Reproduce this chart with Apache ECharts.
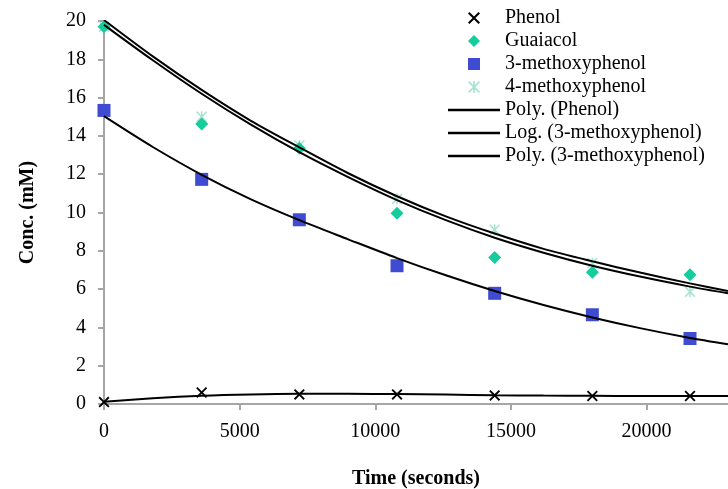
<!DOCTYPE html>
<html>
<head>
<meta charset="utf-8">
<title>Conc. vs time</title>
<script src="https://cdn.jsdelivr.net/npm/echarts@6/dist/echarts.min.js"></script>
<style>
  html, body { margin: 0; padding: 0; background: #fff; }
  #chart { width: 728px; height: 489px; }
</style>
</head>
<body>
<div id="chart"></div>
<script>
// measured concentrations (mM) at each sampling time (s)
const sampleTimes = [0, 3600, 7200, 10800, 14400, 18000, 21600];
const phenol = [0.1, 0.6, 0.5, 0.5, 0.45, 0.42, 0.42];
const guaiacol = [19.7, 14.62, 13.35, 9.96, 7.65, 6.88, 6.75];
const methoxy3 = [15.33, 11.73, 9.62, 7.22, 5.78, 4.66, 3.42];
const methoxy4 = [19.7, 15.0, 13.5, 10.7, 9.1, 7.35, 5.86];

// trend lines
const trendTimes = [0, 1800, 3600, 5400, 7200, 9000, 10800, 12600, 14400, 16200, 18000, 19800, 21600, 23000];
const trendPolyPhenol = [0.12, 0.3, 0.43, 0.5, 0.53, 0.53, 0.52, 0.49, 0.46, 0.44, 0.43, 0.42, 0.42, 0.42];
const trendLog3 = [20.05, 18.15, 16.4, 14.8, 13.4, 12.05, 10.85, 9.8, 8.9, 8.1, 7.45, 6.85, 6.3, 5.9];
const trendUpper2 = [19.8, 17.95, 16.2, 14.6, 13.15, 11.85, 10.65, 9.6, 8.68, 7.9, 7.22, 6.64, 6.13, 5.78];
const trendPoly3 = [15.03, 13.42, 11.97, 10.7, 9.6, 8.6, 7.62, 6.72, 5.9, 5.17, 4.52, 3.95, 3.45, 3.12];

const xTicks = { min: 0, max: 23000, interval: 5000 };
const yTicks = { min: 0, max: 20, interval: 2 };

const pairs = (xs, ys) => xs.map((x, i) => [x, ys[i]]);

// path symbols so legend icons keep their aspect
const xMark = 'path://M0,1.2 L1.2,0 L5,3.8 L8.8,0 L10,1.2 L6.2,5 L10,8.8 L8.8,10 L5,6.2 L1.2,10 L0,8.8 L3.8,5 Z';
const starMark = 'path://M0,1 L1,0 L5,4 L9,0 L10,1 L6,5 L10,9 L9,10 L5,6 L1,10 L0,9 L4,5 Z M4.3,0 L5.7,0 L5.7,10 L4.3,10 Z';
const diamondMark = 'path://M5,0 L10,5 L5,10 L0,5 Z';
const squareMark = 'path://M0,0 L10,0 L10,10 L0,10 Z';
const lineIcon = 'path://M0,0 L52,0 L52,2.5 L0,2.5 Z';

const font = 'Liberation Serif, Times New Roman, serif';
const axisGray = '#a6a6a6';

const scatter = (name, data, symbol, size, color, z) => ({
  name,
  type: 'scatter',
  data: pairs(sampleTimes, data),
  symbol,
  symbolSize: size,
  itemStyle: { color, opacity: 1 },
  clip: false,
  z
});

const trend = (name, data) => ({
  name,
  type: 'line',
  data: pairs(trendTimes, data),
  smooth: 0.3,
  symbol: 'none',
  lineStyle: { color: '#000', width: 2 },
  itemStyle: { color: '#000' },
  z: 4
});

const options = {
  animation: false,
  backgroundColor: '#fff',
  grid: { left: 104, top: 21, right: 0, bottom: 85, outerBoundsMode: 'none', containLabel: false },
  legend: {
    orient: 'vertical',
    left: 448,
    top: 8,
    padding: 0,
    itemGap: 3,
    itemWidth: 52,
    itemHeight: 12,
    textStyle: { fontFamily: font, fontSize: 20, color: '#000' },
    data: ['Phenol', 'Guaiacol', '3-methoxyphenol', '4-methoxyphenol',
      { name: 'Poly. (Phenol)', icon: lineIcon },
      { name: 'Log. (3-methoxyphenol)', icon: lineIcon },
      { name: 'Poly. (3-methoxyphenol)', icon: lineIcon }]
  },
  xAxis: {
    type: 'value',
    ...xTicks,
    name: 'Time (seconds)',
    nameLocation: 'middle',
    nameGap: 65,
    nameTextStyle: { fontFamily: font, fontSize: 20, fontWeight: 'bold', color: '#000' },
    axisLine: { show: true, lineStyle: { color: axisGray, width: 2 } },
    axisTick: { show: true, length: 6, lineStyle: { color: axisGray, width: 2 } },
    splitLine: { show: false },
    axisLabel: {
      fontFamily: font, fontSize: 20, color: '#000', margin: 18, showMaxLabel: false,
      formatter: v => String(v)
    }
  },
  yAxis: {
    type: 'value',
    ...yTicks,
    name: 'Conc. (mM)',
    nameLocation: 'middle',
    nameGap: 66,
    nameTextStyle: { fontFamily: font, fontSize: 20, fontWeight: 'bold', color: '#000' },
    axisLine: { show: true, lineStyle: { color: axisGray, width: 2 } },
    axisTick: { show: true, length: 6, lineStyle: { color: axisGray, width: 2 } },
    splitLine: { show: false },
    axisLabel: { fontFamily: font, fontSize: 20, color: '#000', margin: 18 }
  },
  series: [
    scatter('4-methoxyphenol', methoxy4, starMark, 11, '#a9e3d0', 2),
    scatter('Guaiacol', guaiacol, diamondMark, 13, '#14cc9c', 3),
    scatter('3-methoxyphenol', methoxy3, squareMark, 13, '#3f4bd0', 3),
    scatter('Phenol', phenol, xMark, 11, '#000', 3),
    trend('Poly. (Phenol)', trendPolyPhenol),
    trend('Log. (3-methoxyphenol)', trendLog3),
    trend('Poly. (3-methoxyphenol)', trendPoly3),
    trend('trend', trendUpper2)
  ]
};

// init
const myChart = echarts.init(document.getElementById('chart'));
myChart.setOption(options);
window.addEventListener('resize', () => myChart.resize());
</script>
</body>
</html>
